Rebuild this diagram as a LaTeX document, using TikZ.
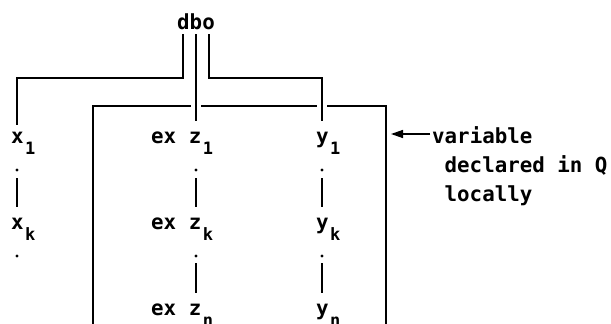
\documentclass[tikz,border=0pt]{standalone}
\usepackage{fontspec}
\setmonofont{DejaVu Sans Mono}
\usetikzlibrary{arrows.meta}
\newcommand\sbs[1]{\kern1.5pt\raisebox{-11pt}{\fontsize{17}{17}\selectfont #1}}
\begin{document}
\begin{tikzpicture}[x=1pt,y=-1pt,
  lbl/.style={font=\ttfamily\bfseries\fontsize{20.8}{25}\selectfont, inner sep=0pt, anchor=base west},
  ln/.style={line width=2pt},
  lnk/.style={line width=1.6pt},
  dotn/.style={circle, fill, inner sep=0pt, minimum size=3.4pt}]
\useasboundingbox (0,0) rectangle (611,324);
% labels
\node[lbl, anchor=base] (dbo) at (196,30) {dbo};
\node[lbl] (x1) at (11,143) {x\sbs{1}};
\node[lbl] (xk) at (11,229) {x\sbs{k}};
\node[lbl] (z1) at (151,143) {ex z\sbs{1}};
\node[lbl] (zk) at (151,229) {ex z\sbs{k}};
\node[lbl] (zn) at (151,315) {ex z\sbs{n}};
\node[lbl] (y1) at (316,143) {y\sbs{1}};
\node[lbl] (yk) at (316,229) {y\sbs{k}};
\node[lbl] (yn) at (316,315) {y\sbs{n}};
\node[lbl] (t1) at (432,143) {variable};
\node[lbl] (t2) at (444.5,172) {declared in Q};
\node[lbl] (t3) at (444.5,201) {locally};
% dots
\node[dotn] (dx1) at (17,170) {};
\node[dotn] (dx2) at (17,256) {};
\node[dotn] (dz1) at (196,170) {};
\node[dotn] (dz2) at (196,256) {};
\node[dotn] (dy1) at (322,170) {};
\node[dotn] (dy2) at (322,256) {};
% tree from dbo
\coordinate (dA) at (183,34);
\coordinate (dB) at (196,34);
\coordinate (dC) at (208.5,34);
\coordinate (cA) at (183,78);
\coordinate (cL) at (17,78);
\coordinate (eL) at (17,125);
\coordinate (eM) at (196,121);
\coordinate (cC) at (208.5,78);
\coordinate (cR) at (322,78);
\coordinate (eR) at (322,121);
\draw[ln] (dA) -- (cA) -- (cL) -- (eL);
\draw[ln] (dB) -- (eM);
\draw[ln] (dC) -- (cC) -- (cR) -- (eR);
% inner frame
\coordinate (iL) at (93,324);
\coordinate (iTL) at (93,106);
\coordinate (g1) at (191,106);
\coordinate (g2) at (201,106);
\coordinate (g3) at (317,106);
\coordinate (g4) at (327,106);
\coordinate (iTR) at (386,106);
\coordinate (iR) at (386,324);
\draw[ln] (iL) -- (iTL) -- (g1);
\draw[ln] (g2) -- (g3);
\draw[ln] (g4) -- (iTR) -- (iR);
% column links
\coordinate (lx1a) at (17,178); \coordinate (lx1b) at (17,207);
\coordinate (lz1a) at (196,178); \coordinate (lz1b) at (196,207);
\coordinate (lz2a) at (196,263); \coordinate (lz2b) at (196,293);
\coordinate (ly1a) at (322,178); \coordinate (ly1b) at (322,207);
\coordinate (ly2a) at (322,263); \coordinate (ly2b) at (322,293);
\draw[lnk] (lx1a) -- (lx1b);
\draw[lnk] (lz1a) -- (lz1b);
\draw[lnk] (lz2a) -- (lz2b);
\draw[lnk] (ly1a) -- (ly1b);
\draw[lnk] (ly2a) -- (ly2b);
% arrow
\coordinate (aS) at (430,134);
\coordinate (aE) at (391,134);
\draw[line width=1.4pt, -{Triangle[length=12pt,width=8pt]}] (aS) -- (aE);
\end{tikzpicture}
\end{document}
